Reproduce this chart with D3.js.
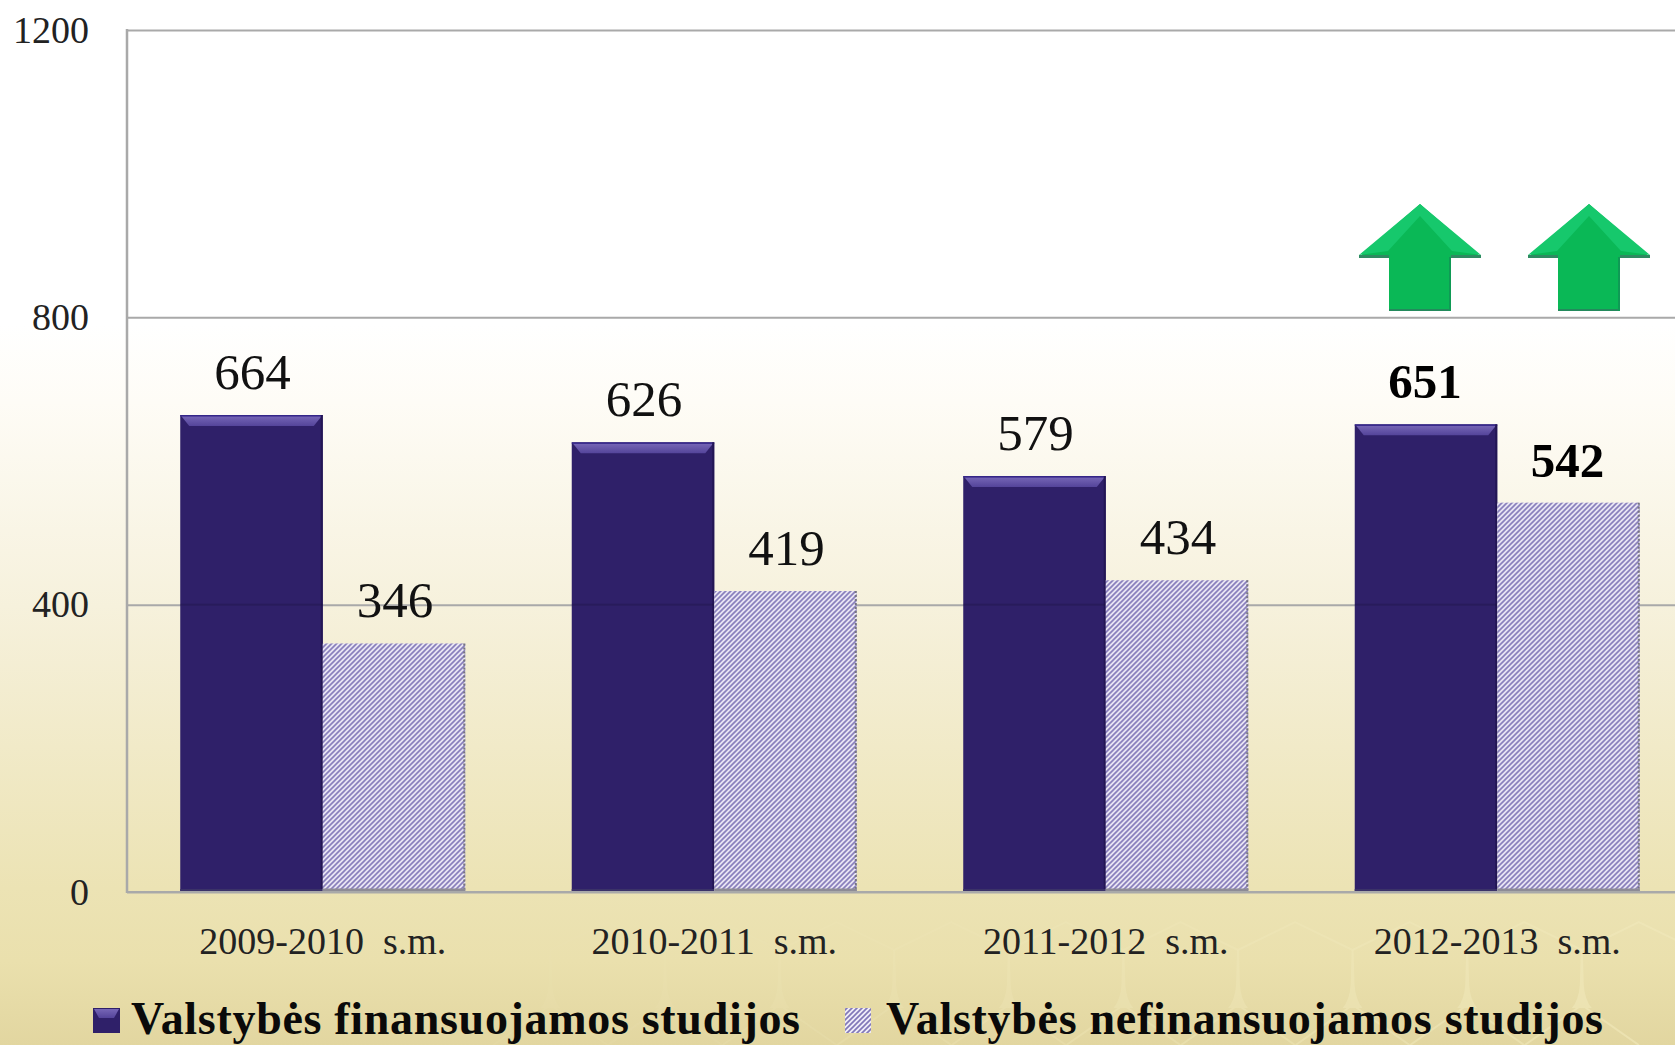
<!DOCTYPE html>
<html><head><meta charset="utf-8">
<script src="https://cdn.jsdelivr.net/npm/d3@7/dist/d3.min.js"></script>
<style>html,body{margin:0;padding:0;background:#fff;overflow:hidden}svg{display:block}text{font-family:"Liberation Serif",serif}</style>
</head><body><svg id="c" width="1675" height="1045"></svg>
<script>
const categories = ["2009-2010  s.m.", "2010-2011  s.m.", "2011-2012  s.m.", "2012-2013  s.m."];
const fundedValues = [664, 626, 579, 651];
const unfundedValues = [346, 419, 434, 542];
const yTicks = [0, 400, 800, 1200];
const seriesNames = ["Valstybės finansuojamos studijos", "Valstybės nefinansuojamos studijos"];
const boldCategoryIndex = 3;

const W = 1675, H = 1045;
const svg = d3.select("#c");
const defs = svg.append("defs");

const bg = defs.append("linearGradient").attr("id","bg").attr("x1",0).attr("x2",0).attr("y1",0).attr("y2",1);
[[0,"#ffffff"],[.31,"#ffffff"],[.385,"#fefcf6"],[.58,"#f6f1dc"],[.85,"#ece3b4"],[.92,"#eae0ad"],[1,"#e2d6a0"]]
  .forEach(s=>bg.append("stop").attr("offset",s[0]).attr("stop-color",s[1]));
const bevelGrad = defs.append("linearGradient").attr("id","bevel").attr("x1",0).attr("x2",0).attr("y1",0).attr("y2",1);
bevelGrad.append("stop").attr("offset",0).attr("stop-color","#7666b6");
bevelGrad.append("stop").attr("offset",1).attr("stop-color","#54449a");
const hatch = defs.append("pattern").attr("id","hatch").attr("patternUnits","userSpaceOnUse").attr("width",5).attr("height",5);
hatch.append("rect").attr("width",5).attr("height",5).attr("fill","#f0edf8");
hatch.append("path").attr("d","M-1,1L1,-1M0,5L5,0M4,6L6,4").attr("stroke","#8278b8").attr("stroke-width",1.7);

svg.append("rect").attr("width",W).attr("height",H).attr("fill","url(#bg)");

// faint ornament in the slide background
const orn = svg.append("g").attr("fill","none").attr("stroke","#f1e9bb");
d3.range(-6,4).forEach(i=>{
  const ox = 1238 + i*114.6, op = Math.max(.1, .42 + i*.06);
  const g = orn.append("g").attr("opacity",op);
  g.append("path").attr("stroke-width",2).attr("d",`M${ox},950L${ox+57},922L${ox+114.6},950`);
  g.append("path").attr("stroke","none").attr("fill","#f1e9bb").attr("d",`M${ox-1},950L${ox+1},950L${ox+2},985Q${ox+3},1000 ${ox+10},1008L${ox-10},1008Q${ox-3},1000 ${ox-2},985Z`);
  g.append("path").attr("stroke-width",2).attr("d",`M${ox},1005L${ox+57},1045M${ox},1005L${ox-57},1045`);
});

const margin = {left:127, top:30, bottom:892};
const x = d3.scaleBand().domain(categories).range([margin.left,1693]).paddingInner(.272).paddingOuter(.136);
const inner = d3.scaleBand().domain([0,1]).range([0,x.bandwidth()]);
const y = d3.scaleLinear().domain([0,1200]).range([margin.bottom,margin.top]);

// gridlines + y axis
const yAxis = d3.axisLeft(y).tickValues(yTicks).tickSize(0).tickPadding(38).tickFormat(d3.format("d"));
const gy = svg.append("g").attr("transform",`translate(${margin.left},0)`).call(yAxis);
gy.select(".domain").remove();
gy.selectAll("text").attr("font-size",38).attr("fill","#222").attr("style",'font-family:"Liberation Serif"').attr("dy",0).attr("y",12);
const grid = svg.append("g").attr("transform",`translate(${margin.left},0)`)
  .call(d3.axisLeft(y).tickValues(yTicks).tickSize(-(W-margin.left)).tickFormat(""));
grid.select(".domain").remove();
grid.selectAll("line").attr("stroke","#a9a9a9").attr("stroke-width",2);
svg.append("line").attr("x1",margin.left).attr("x2",margin.left).attr("y1",margin.top-1).attr("y2",margin.bottom+1)
  .attr("stroke","#a9a9a9").attr("stroke-width",2.5);

// bars
const groups = svg.append("g").selectAll("g").data(categories).join("g")
  .attr("transform",d=>`translate(${x(d)},0)`);
const bw = inner.bandwidth();

groups.each(function(cat,i){
  const g = d3.select(this);
  const v = fundedValues[i], t = y(v), b = y(0), bx = inner(0);
  g.append("rect").attr("x",bx).attr("y",t).attr("width",bw).attr("height",b-t).attr("fill","#2f2069");
  g.append("path").attr("fill","url(#bevel)")
    .attr("d",`M${bx+1},${t+1}L${bx+bw-1},${t+1}L${bx+bw-9},${t+11}L${bx+9},${t+11}Z`);
  g.append("rect").attr("x",bx).attr("y",t).attr("width",bw).attr("height",1.5).attr("fill","#35268a");
  g.append("rect").attr("x",bx+bw-2).attr("y",t).attr("width",2).attr("height",b-t).attr("fill","#231654");
  g.append("rect").attr("x",bx).attr("y",b-3).attr("width",bw).attr("height",3).attr("fill","#3b3268");
  if (y(400) > t) g.append("rect").attr("x",bx).attr("y",y(400)-1).attr("width",bw).attr("height",2).attr("fill","#000").attr("opacity",.13);

  const u = unfundedValues[i], t2 = y(u), ux = inner(1);
  g.append("rect").attr("x",ux).attr("y",t2).attr("width",bw).attr("height",b-t2).attr("fill","url(#hatch)");
  g.append("line").attr("x1",ux+bw-1).attr("x2",ux+bw-1).attr("y1",t2).attr("y2",b).attr("stroke","#77757f").attr("stroke-width",2).attr("stroke-dasharray","2 2");
  g.append("line").attr("x1",ux).attr("x2",ux+bw).attr("y1",b-2).attr("y2",b-2).attr("stroke","#8d8b95").attr("stroke-width",3);

  const bold = i===boldCategoryIndex;
  [[0,v],[1,u]].forEach(([s,val])=>{
    g.append("text").attr("x",inner(s)+bw/2+(bold?-1:1)).attr("y",y(val)-26).attr("text-anchor","middle")
      .attr("font-size",bold?49:51).attr("font-weight",bold?"bold":"normal").attr("fill",bold?"#000":"#111").text(val);
  });
});

// x axis
const xAxis = d3.axisBottom(x).tickSize(0).tickPadding(0);
const gx = svg.append("g").attr("transform",`translate(0,${margin.bottom})`).call(xAxis);
gx.select(".domain").remove();
gx.selectAll("text").attr("font-size",38).attr("fill","#222").attr("style",'font-family:"Liberation Serif";white-space:pre').attr("dy",0).attr("y",62);
svg.append("line").attr("x1",margin.left).attr("x2",W).attr("y1",margin.bottom).attr("y2",margin.bottom).attr("stroke","#a9a9a9").attr("stroke-width",2);

// arrows (annotations)
function arrow(cx){
  const g = svg.append("g");
  const tip=204, wing=257, base=311, hw=61, sw=31;
  g.append("path").attr("fill","#0ab856").attr("d",`M${cx},${tip}L${cx+hw},${wing}L${cx+sw},${wing}L${cx+sw},${base}L${cx-sw},${base}L${cx-sw},${wing}L${cx-hw},${wing}Z`);
  g.append("path").attr("fill","#16c86c").attr("d",`M${cx},${tip}L${cx+hw},${wing-2}L${cx+32},${wing-6}L${cx},${tip+12}L${cx-32},${wing-6}L${cx-hw},${wing-2}Z`);
  g.append("path").attr("fill","#2f8a62").attr("d",`M${cx-hw},${wing-2}L${cx-sw},${wing-2}L${cx-sw},${wing+1}L${cx-hw},${wing+1}ZM${cx+sw},${wing-2}L${cx+hw},${wing-2}L${cx+hw},${wing+1}L${cx+sw},${wing+1}Z`);
  g.append("rect").attr("x",cx-sw).attr("y",base-2).attr("width",2*sw).attr("height",2).attr("fill","#238a5c");
  g.append("rect").attr("x",cx+sw-2).attr("y",wing).attr("width",2).attr("height",base-wing).attr("fill","#0f9a55");
}
arrow(1420); arrow(1589);

// legend
const legendX = [[93,131,669],[845,886,717]];
seriesNames.forEach((label,i)=>{
  const [mx,tx,tl] = legendX[i];
  if(i===0){
    svg.append("rect").attr("x",mx).attr("y",1008).attr("width",27).attr("height",25).attr("fill","#2f2069");
    svg.append("path").attr("fill","url(#bevel)").attr("d",`M${mx+1},1009L${mx+26},1009L${mx+21},1018L${mx+6},1018Z`);
  } else {
    svg.append("rect").attr("x",mx).attr("y",1008).attr("width",26).attr("height",25).attr("fill","url(#hatch)");
  }
  svg.append("text").attr("x",tx).attr("y",1034).attr("font-size",46).attr("font-weight","bold").attr("fill","#0a0a0a")
    .attr("textLength",tl).attr("lengthAdjust","spacing").text(label);
});
</script></body></html>
